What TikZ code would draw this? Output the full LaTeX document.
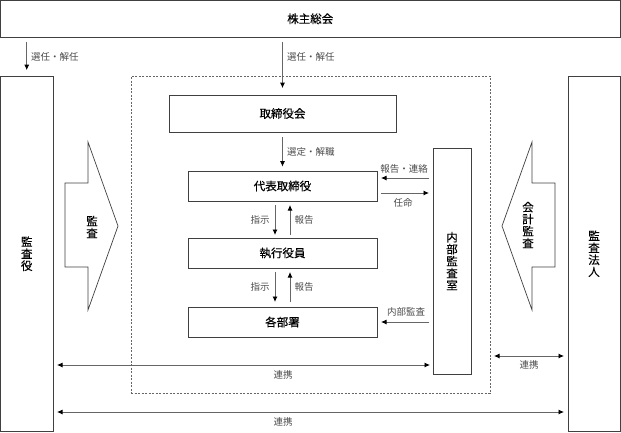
\documentclass[tikz,border=0pt]{standalone}
\usepackage{fontspec}
\newfontfamily\jp{Noto Sans CJK JP}
\newfontfamily\jpb[FakeBold=0.4]{Noto Sans CJK JP}
\usetikzlibrary{arrows.meta,calc}
\tikzset{
  box/.style={draw=black!75, line width=0.8pt, fill=white, inner sep=0pt, font=\jpb\fontsize{11.5}{12.5}\selectfont},
  lbl/.style={font=\jp\fontsize{9.5}{10}\selectfont, text=black!70, inner sep=1pt},
  vtxt/.style={font=\jpb\fontsize{11.5}{12}\selectfont, align=center, inner sep=0pt},
  tip/.style={},
  arr/.style={draw=black!60, line width=0.8pt, -{Latex[length=5.5pt,width=5pt,black]}},
  darr/.style={draw=black!60, line width=0.8pt, {Latex[length=5.5pt,width=5pt,black]}-{Latex[length=5.5pt,width=5pt,black]}},
  bigarrow/.style={draw=black!75, line width=0.7pt, fill=white},
}
\begin{document}
\begin{tikzpicture}[x=1pt,y=-1pt]
\useasboundingbox (0,0) rectangle (621,432);
% boxes
\node[box, minimum width=619.5pt, minimum height=36.5pt] (kabu) at (310.25,18.75) {株主総会};
\node[box, minimum width=52.5pt, minimum height=355.5pt] (kansayaku) at (26.75,253.75) {};
\node[vtxt] at (kansayaku.center) {監\\査\\役};
\node[box, minimum width=52pt, minimum height=355.5pt] (hojin) at (594,253.75) {};
\node[vtxt] at (hojin.center) {監\\査\\法\\人};
\node[draw=black!60, line width=0.8pt, dash pattern=on 2pt off 1.5pt, minimum width=359pt, minimum height=317pt, inner sep=0pt] (dash) at (310.5,234.5) {};
\node[box, minimum width=227pt, minimum height=37pt] (tk) at (282.5,113.5) {取締役会};
\node[box, minimum width=189pt, minimum height=30pt] (daihyo) at (282.5,186) {代表取締役};
\node[box, minimum width=189pt, minimum height=30pt] (shikko) at (282.5,253) {執行役員};
\node[box, minimum width=189pt, minimum height=30pt] (kakubu) at (282.5,322) {各部署};
\node[box, minimum width=38pt, minimum height=226pt] (naibu) at (452,261) {};
\node[vtxt] at (naibu.center) {内\\部\\監\\査\\室};
% big arrows
\draw[bigarrow] (65,183) -- (88,183) -- (88,142) -- (118,226) -- (88,310) -- (88,267) -- (65,267) -- cycle;
\node[vtxt] (kansa) at (92,227) {監\\査};
\draw[bigarrow] (555,183) -- (532,183) -- (532,142) -- (502,226) -- (532,310) -- (532,267) -- (555,267) -- cycle;
\node[vtxt] (kaikei) at (528,225) {会\\計\\監\\査};
% arrows from kabu
\draw[arr, shorten <=5pt, shorten >=5.5pt] (kabu.south -| kansayaku.north) -- (kansayaku.north);
\node[lbl, anchor=west] at (30,57) {選任・解任};
\draw[arr, shorten <=5pt, shorten >=6.5pt] (kabu.south -| tk.north) -- (tk.north);
\node[lbl, anchor=west] at (286,57) {選任・解任};
\draw[arr, shorten <=5pt, shorten >=4pt] (tk.south) -- (daihyo.north);
\node[lbl, anchor=west] at (286,152) {選定・解職};
% daihyo <-> naibu
\coordinate (d1) at (377,178); \coordinate (n1) at (433,178);
\draw[arr, shorten <=4pt, shorten >=4pt] (n1) -- (d1);
\node[lbl] at (404,169) {報告・連絡};
\coordinate (d2) at (377,193); \coordinate (n2) at (433,193);
\draw[arr, shorten <=4pt, shorten >=4pt] (d2) -- (n2);
\node[lbl] at (403,203) {任命};
% daihyo <-> shikko
\coordinate (a1) at (275,201); \coordinate (b1) at (275,238);
\draw[arr, shorten <=4pt, shorten >=3pt] (a1) -- (b1);
\node[lbl] at (260,220) {指示};
\coordinate (a2) at (290,201); \coordinate (b2) at (290,238);
\draw[arr, shorten <=3pt, shorten >=4pt] (b2) -- (a2);
\node[lbl] at (304,220) {報告};
% shikko <-> kakubu
\coordinate (a3) at (275,268); \coordinate (b3) at (275,307);
\draw[arr, shorten <=4pt, shorten >=5pt] (a3) -- (b3);
\node[lbl] at (260,287) {指示};
\coordinate (a4) at (290,268); \coordinate (b4) at (290,307);
\draw[arr, shorten <=5pt, shorten >=4pt] (b4) -- (a4);
\node[lbl] at (304,287) {報告};
% naibu -> kakubu
\coordinate (k1) at (377,322); \coordinate (n3) at (433,322);
\draw[arr, shorten <=4pt, shorten >=4pt] (n3) -- (k1);
\node[lbl] at (406,312) {内部監査};
% renkei
\coordinate (l1) at (53,365); \coordinate (r1) at (433,365);
\draw[darr, shorten <=4pt, shorten >=3pt] (l1) -- (r1);
\node[lbl] at (283,375) {連携};
\coordinate (l2) at (490,356); \coordinate (r2) at (568,356);
\draw[darr, shorten <=4pt, shorten >=4pt] (l2) -- (r2);
\node[lbl] at (529,365) {連携};
\coordinate (l3) at (53,412); \coordinate (r3) at (568,412);
\draw[darr, shorten <=4pt, shorten >=4pt] (l3) -- (r3);
\node[lbl] at (283,422) {連携};
\end{tikzpicture}
\end{document}
